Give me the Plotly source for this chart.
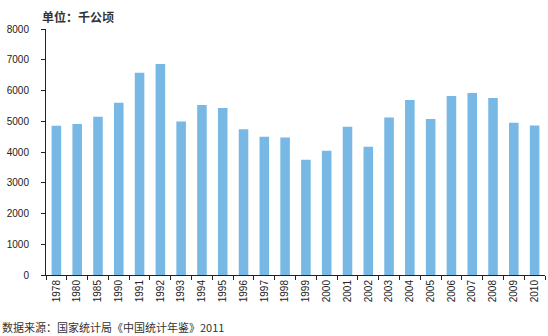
import plotly.graph_objects as go

years = ["1978", "1980", "1985", "1990", "1991", "1992", "1993", "1994", "1995", "1996",
         "1997", "1998", "1999", "2000", "2001", "2002", "2003", "2004", "2005", "2006",
         "2007", "2008", "2009", "2010"]
values = [4850, 4910, 5150, 5600, 6580, 6860, 4990, 5530, 5430, 4740,
          4500, 4470, 3750, 4040, 4820, 4170, 5120, 5690, 5070, 5820,
          5920, 5760, 4950, 4860]
y_ticks = [0, 1000, 2000, 3000, 4000, 5000, 6000, 7000, 8000]

unit_text = "单位：千公顷"
source_text = "数据来源：国家统计局《中国统计年鉴》2011"

W, H = 548, 336
ml, mr, mt, mb = 46, 3, 29, 61
pw, ph = W - ml - mr, H - mt - mb

fig = go.Figure(go.Bar(x=years, y=values, marker=dict(color="#78b8e4", line=dict(width=0)),
                       width=0.46))

fig.update_layout(
    width=W, height=H,
    margin=dict(l=ml, r=mr, t=mt, b=mb),
    paper_bgcolor="white", plot_bgcolor="white",
    showlegend=False,
    font=dict(family="Liberation Sans, Arial, sans-serif", size=10, color="#222"),
    xaxis=dict(type="category", tickangle=-90, showline=True, linecolor="#222", linewidth=1,
               ticks="outside", tickson="boundaries", ticklen=4, tickcolor="#222",
               showgrid=False, tickfont=dict(size=10, color="#222")),
    yaxis=dict(range=[0, 8000], tickvals=y_ticks, showline=True, linecolor="#222", linewidth=1,
               ticks="outside", ticklen=4, tickcolor="#222", showgrid=False, zeroline=False,
               ticklabelstandoff=10,
               tickfont=dict(size=10, color="#222")),
    annotations=[
        dict(text="<b>" + unit_text + "</b>", xref="paper", yref="paper",
             x=(40 - ml) / pw, y=1 + 13 / ph, xanchor="left", yanchor="middle",
             showarrow=False, font=dict(family="Noto Sans CJK SC", size=12, color="#333")),
        dict(text=source_text, xref="paper", yref="paper",
             x=(0 - ml) / pw, y=-52 / ph, xanchor="left", yanchor="middle",
             showarrow=False, font=dict(family="Noto Sans CJK SC", size=11, color="#333")),
    ],
)

fig.write_html("out.html")
